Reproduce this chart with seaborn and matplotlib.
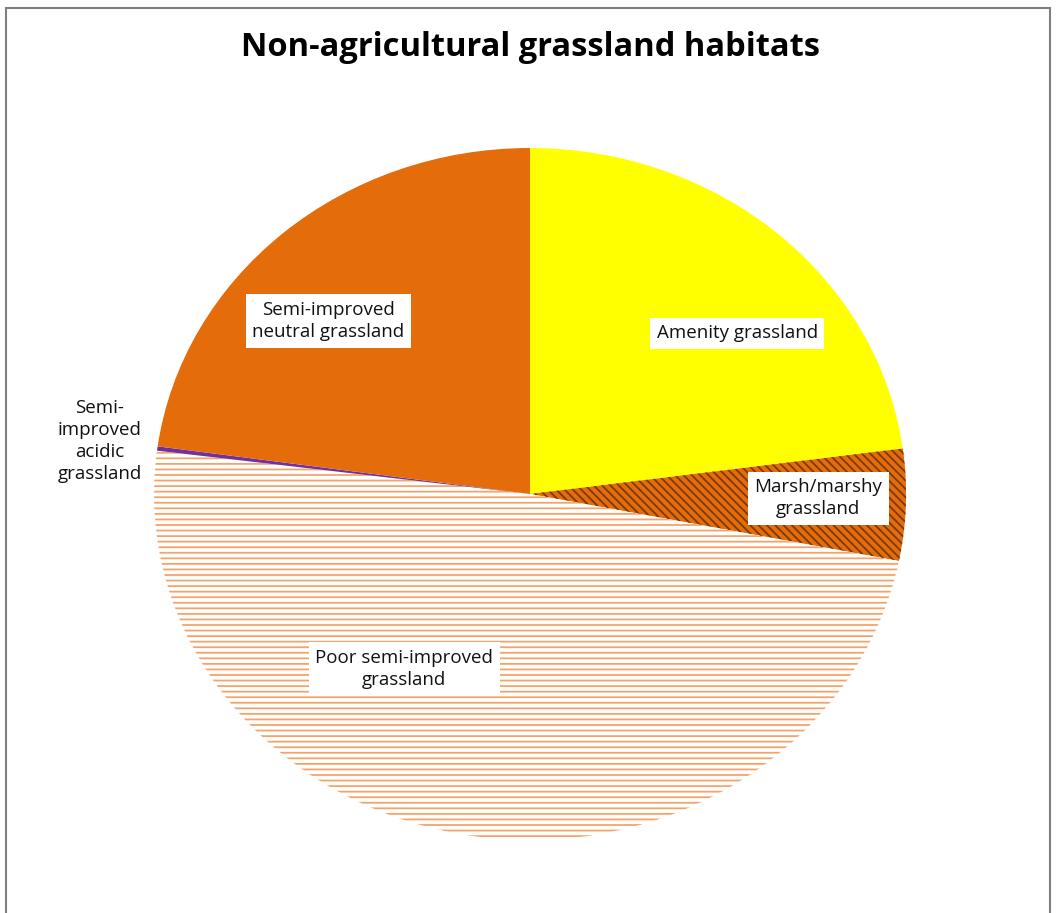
import matplotlib
matplotlib.use("Agg")
import matplotlib.pyplot as plt
from matplotlib.patches import Rectangle
import seaborn as sns

# habitat shares (%), clockwise from 12 o'clock
habitats = ["Amenity grassland", "Marsh/marshy\ngrassland", "Poor semi-improved\ngrassland",
            "Semi-\nimproved\nacidic\ngrassland", "Semi-improved\nneutral grassland"]
shares = [22.9, 5.2, 48.9, 0.2, 22.8]

sns.set_theme(style="white")
plt.rcParams["font.family"] = ["Open Sans", "DejaVu Sans"]
plt.rcParams["hatch.linewidth"] = 1.3

fig = plt.figure(figsize=(10.58, 9.13), dpi=100)
ax = fig.add_axes([0.1456, 0.0799, 0.7108, 0.758])

face = ["#FFFF00", "#E46C0A", "white", "#7030A0", "#E46C0A"]
edge = ["#FFFF00", "#7A3A08", "#F4A46A", "#7030A0", "#E46C0A"]
hatches = [None, "\\\\\\\\", "---", None, None]

wedges, _ = ax.pie(shares, startangle=90, counterclock=False, colors=face,
                   wedgeprops=dict(linewidth=0))
for w, e, h in zip(wedges, edge, hatches):
    if h:
        w.set_hatch(h)
        w.set_edgecolor(e)
        w.set_linewidth(0)
ax.set_aspect("auto")
ax.set_xlim(-1, 1)
ax.set_ylim(-1, 1)
ax.axis("off")

box = dict(boxstyle="square,pad=0.35", facecolor="white", edgecolor="none")
label_pos = [(0.551, 0.465), (0.766, -0.012), (-0.335, -0.506), (-1.144, 0.153), (-0.537, 0.5)]
for (x, y), lab in zip(label_pos, habitats):
    ax.text(x, y, lab, ha="center", va="center", fontsize=13.5, color="#111111",
            bbox=None if lab.startswith("Semi-\n") else box, linespacing=1.3)

fig.text(0.501, 0.948, "Non-agricultural grassland habitats", ha="center", va="center",
         fontsize=23.5, fontweight="bold", color="black")

fig.patches.append(Rectangle((6 / 1058, -0.05), 1044 / 1058, 1.05 - 8 / 913,
                             transform=fig.transFigure, fill=False,
                             edgecolor="#7f7f7f", linewidth=1.5))

fig.savefig("out.png", dpi=100)
